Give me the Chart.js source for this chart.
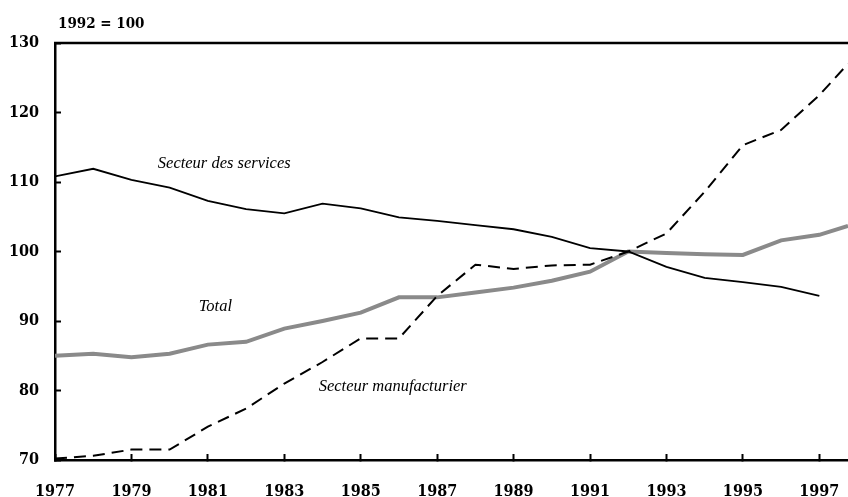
<!DOCTYPE html>
<html>
<head>
<meta charset="utf-8">
<script src="https://cdn.jsdelivr.net/npm/chart.js@4/dist/chart.umd.min.js"></script>
<style>
  html, body { margin: 0; padding: 0; background: #fff; }
  canvas { display: block; }
</style>
</head>
<body>
<canvas id="c" width="848" height="497"></canvas>
<script>
// ---- data ----
const years = [1977, 1978, 1979, 1980, 1981, 1982, 1983, 1984, 1985, 1986, 1987,
               1988, 1989, 1990, 1991, 1992, 1993, 1994, 1995, 1996, 1997, 1997.75];
const services = [110.8, 111.9, 110.3, 109.2, 107.3, 106.1, 105.5, 106.9, 106.2, 104.9, 104.4,
                  103.8, 103.2, 102.1, 100.5, 100.0, 97.8, 96.2, 95.6, 94.9, 93.6, null];
const manufacturing = [70.2, 70.6, 71.5, 71.5, 74.8, 77.4, 81.0, 84.1, 87.5, 87.5, 93.6,
                       98.1, 97.5, 98.0, 98.1, 100.0, 102.6, 108.6, 115.3, 117.5, 122.5, 127.0];
const total = [85.0, 85.3, 84.8, 85.3, 86.6, 87.0, 88.9, 90.0, 91.2, 93.4, 93.4,
               94.1, 94.8, 95.8, 97.1, 100.0, 99.8, 99.6, 99.5, 101.6, 102.4, 103.7];
const xTicks = [1977, 1979, 1981, 1983, 1985, 1987, 1989, 1991, 1993, 1995, 1997];
const yTicks = [70, 80, 90, 100, 110, 120, 130];
const unitLabel = '1992 = 100';
const seriesNames = ['Secteur des services', 'Secteur manufacturier', 'Total'];

// label anchors in data coordinates (layout)
const labelAnchors = [
  { text: seriesNames[0], x: 1979.69, y: 112.7 },
  { text: seriesNames[2], x: 1980.76, y: 92.05 },
  { text: seriesNames[1], x: 1983.9, y: 80.55 }
];

const toXY = arr => years.map((yr, i) => ({ x: yr, y: arr[i] }));
const tickFont = { family: "'DejaVu Serif Condensed', 'DejaVu Serif', serif", size: 16, weight: 'bold' };

const annoPlugin = {
  id: 'anno',
  afterDraw(chart) {
    const { ctx, chartArea, scales: { x, y } } = chart;
    ctx.save();
    // top frame line
    ctx.strokeStyle = '#000';
    ctx.lineWidth = 2.5;
    ctx.beginPath();
    ctx.moveTo(chartArea.left - 1, chartArea.top);
    ctx.lineTo(chartArea.right, chartArea.top);
    ctx.stroke();
    // series labels
    ctx.fillStyle = '#000';
    ctx.textBaseline = 'middle';
    ctx.textAlign = 'left';
    ctx.font = "italic 16.5px 'Liberation Serif', serif";
    labelAnchors.forEach(l => ctx.fillText(l.text, x.getPixelForValue(l.x), y.getPixelForValue(l.y)));
    // unit label
    ctx.font = "bold 15px 'DejaVu Serif Condensed', 'DejaVu Serif', serif";
    ctx.fillText(unitLabel, chartArea.left + 3, 24);
    ctx.restore();
  }
};

new Chart(document.getElementById('c'), {
  type: 'line',
  data: {
    datasets: [
      { label: seriesNames[0], data: toXY(services), borderColor: '#000', borderWidth: 1.8,
        pointRadius: 0, tension: 0, order: 1 },
      { label: seriesNames[1], data: toXY(manufacturing), borderColor: '#000', borderWidth: 2,
        borderDash: [12, 7], pointRadius: 0, tension: 0, order: 2 },
      { label: seriesNames[2], data: toXY(total), borderColor: '#8a8a8a', borderWidth: 4,
        pointRadius: 0, tension: 0, order: 3 }
    ]
  },
  options: {
    responsive: false,
    devicePixelRatio: 1,
    animation: false,
    layout: { padding: { top: 43, right: 0, left: 0, bottom: 0 } },
    plugins: { legend: { display: false }, tooltip: { enabled: false }, title: { display: false } },
    scales: {
      x: {
        type: 'linear',
        min: 1977,
        max: 1997.75,
        afterBuildTicks: s => { s.ticks = xTicks.map(v => ({ value: v })); },
        afterFit: s => { s.height = 37; s.paddingLeft = 0; s.paddingRight = 0; },
        border: { display: true, color: '#000', width: 2.5 },
        grid: { display: true, drawOnChartArea: false, drawTicks: true, tickLength: -6,
                tickColor: '#000', tickWidth: 2 },
        ticks: { font: tickFont, color: '#000', padding: 28, maxRotation: 0, autoSkip: false,
                 callback: v => String(v) }
      },
      y: {
        min: 70,
        max: 130,
        afterBuildTicks: s => { s.ticks = yTicks.map(v => ({ value: v })); },
        afterFit: s => { s.width = 55; s.paddingTop = 0; s.paddingBottom = 0; },
        border: { display: true, color: '#000', width: 2.5 },
        grid: { display: true, drawOnChartArea: false, drawTicks: true, tickLength: -6,
                tickColor: '#000', tickWidth: 2 },
        ticks: { font: tickFont, color: '#000', padding: 22, callback: v => String(v) }
      }
    }
  },
  plugins: [annoPlugin]
});
</script>
</body>
</html>
